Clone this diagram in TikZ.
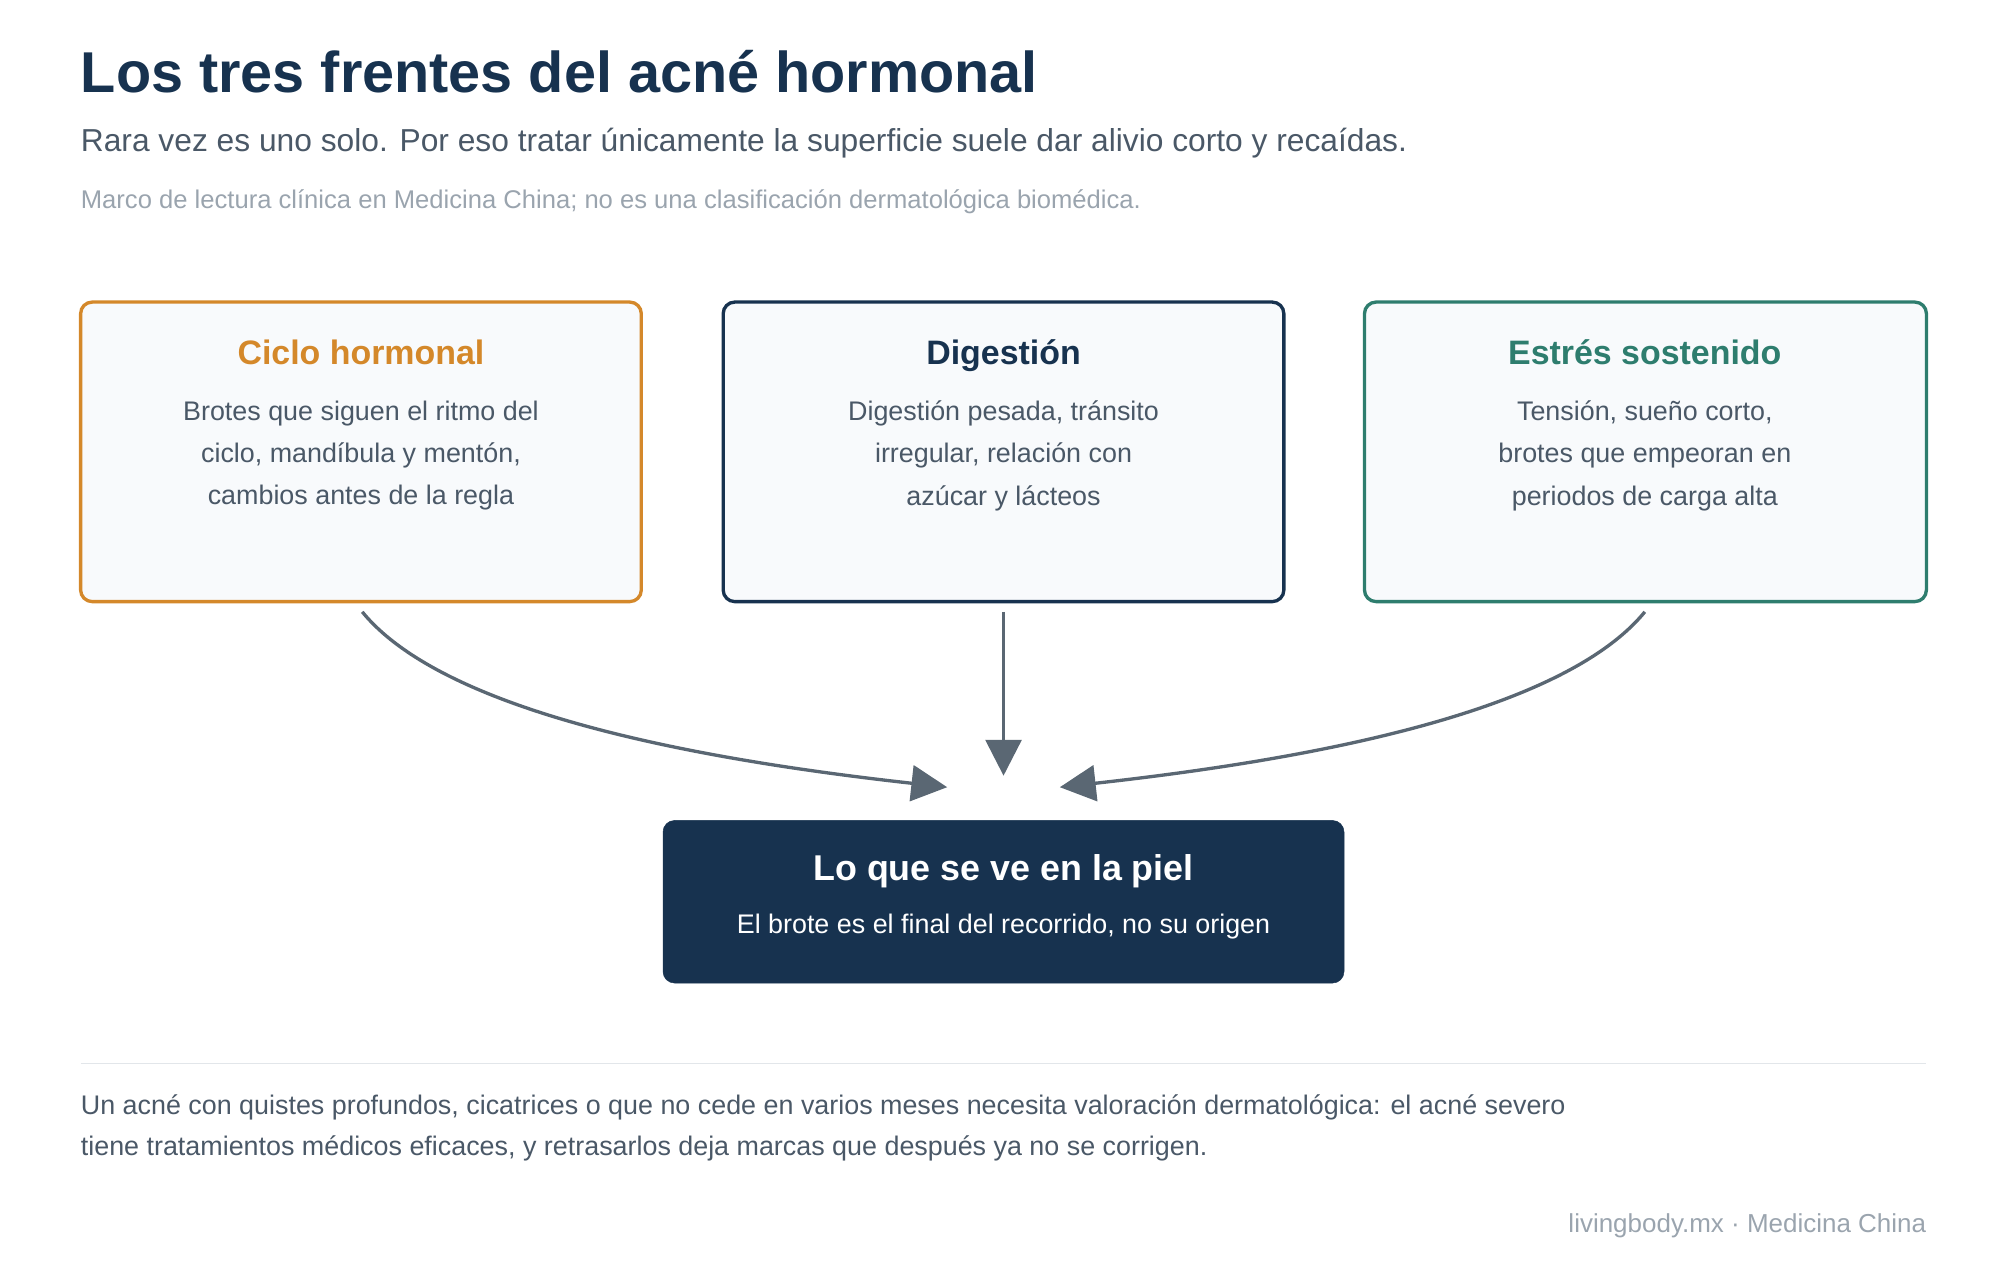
\documentclass[tikz,border=0pt]{standalone}
\usepackage{fontspec}
\setmainfont{Liberation Sans}
\usetikzlibrary{arrows.meta}
\definecolor{navy}{HTML}{17324F}
\definecolor{orng}{HTML}{D4882A}
\definecolor{teal2}{HTML}{2E7D6E}
\definecolor{boxfill}{HTML}{F8FAFC}
\definecolor{txt}{HTML}{4A5867}
\definecolor{note}{HTML}{9AA4AE}
\definecolor{arr}{HTML}{5A6773}
\definecolor{rule}{HTML}{E2E6EA}
\begin{document}
\begin{tikzpicture}[x=1pt,y=-1pt,
  card/.style={draw=#1,line width=2.6pt,fill=boxfill,rounded corners=9pt},
  ctitle/.style={anchor=base,inner sep=0pt,font=\fontsize{26.5}{30}\selectfont\bfseries,text=#1},
  cbody/.style={inner sep=0pt,font=\fontsize{21}{33}\selectfont,text=txt,align=center},
  con/.style={draw=arr,line width=2.6pt,-{Triangle[length=28pt,width=28pt]}}]
\useasboundingbox (0,0) rectangle (1562.5,1000);
\node[anchor=base west,inner sep=0pt,font=\fontsize{45}{50}\selectfont\bfseries,text=navy] (t) at (63,72) {Los tres frentes del acné hormonal};
\node[anchor=base west,inner sep=0pt,font=\fontsize{24.8}{28}\selectfont,text=txt] (s) at (63,118) {Rara vez es uno solo. Por eso tratar únicamente la superficie suele dar alivio corto y recaídas.};
\node[anchor=base west,inner sep=0pt,font=\fontsize{20}{22}\selectfont,text=note] (n) at (63,163) {Marco de lectura clínica en Medicina China; no es una clasificación dermatológica biomédica.};
\draw[card=orng] (63,236) rectangle (501,470);
\draw[card=navy] (565,236) rectangle (1003,470);
\draw[card=teal2] (1066,236) rectangle (1505,470);
\node[ctitle=orng] (a1) at (282,285) {Ciclo hormonal};
\node[ctitle=navy] (b1) at (784,285) {Digestión};
\node[ctitle=teal2] (c1) at (1285,285) {Estrés sostenido};
\node[cbody,anchor=north] (a2) at (282,313) {Brotes que siguen el ritmo del\\ciclo, mandíbula y mentón,\\cambios antes de la regla};
\node[cbody,anchor=north] (b2) at (784,313) {Digestión pesada, tránsito\\irregular, relación con\\azúcar y lácteos};
\node[cbody,anchor=north] (c2) at (1285,313) {Tensión, sueño corto,\\brotes que empeoran en\\periodos de carga alta};
\coordinate (as) at (283,478);
\coordinate (bs) at (784,478);
\coordinate (cs) at (1285,478);
\coordinate (ae) at (740,615);
\coordinate (be) at (784,606);
\coordinate (ce) at (828,615);
\draw[con] (as) .. controls (350,560) and (560,595) .. (ae);
\draw[con] (bs) -- (be);
\draw[con] (cs) .. controls (1218,560) and (1008,595) .. (ce);
\draw[fill=navy,draw=navy,rounded corners=9pt] (518,641) rectangle (1050,768);
\node[font=\fontsize{28}{32}\selectfont\bfseries,text=white] (p1) at (784,681) {Lo que se ve en la piel};
\node[font=\fontsize{21}{24}\selectfont,text=white] (p2) at (784,724) {El brote es el final del recorrido, no su origen};
\draw[rule,line width=1.2pt] (63,831) -- (1505,831);
\node[anchor=base west,inner sep=0pt,font=\fontsize{21}{24}\selectfont,text=txt] (f1) at (63,871) {Un acné con quistes profundos, cicatrices o que no cede en varios meses necesita valoración dermatológica: el acné severo};
\node[anchor=base west,inner sep=0pt,font=\fontsize{21}{24}\selectfont,text=txt] (f2) at (63,903) {tiene tratamientos médicos eficaces, y retrasarlos deja marcas que después ya no se corrigen.};
\node[anchor=base east,inner sep=0pt,font=\fontsize{20.3}{24}\selectfont,text=note] (l) at (1505,963) {livingbody.mx · Medicina China};
\end{tikzpicture}
\end{document}
